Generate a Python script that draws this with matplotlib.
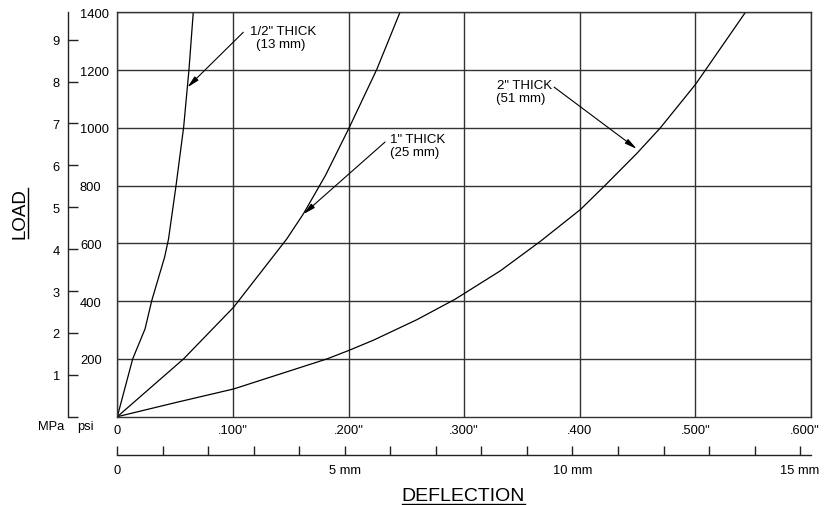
import matplotlib
matplotlib.use('Agg')
import matplotlib.pyplot as plt
import matplotlib.transforms as mtransforms
from matplotlib.lines import Line2D

plt.rcParams['font.family'] = ['Liberation Sans', 'DejaVu Sans']

# load (psi) against deflection (inch)
half_x = [0, 0.0133, 0.0240, 0.0298, 0.0409, 0.0443, 0.0508, 0.0574, 0.0620, 0.0657]
half_y = [0, 200, 304, 402, 552, 615, 800, 1003, 1202, 1400]
one_x = [0, 0.0573, 0.1006, 0.1465, 0.1609, 0.1800, 0.2005, 0.2244, 0.2445]
one_y = [0, 200, 379, 615, 702, 835, 1000, 1202, 1400]
two_x = [0, 0.0516, 0.1006, 0.1813, 0.2000, 0.2216, 0.2592, 0.2923, 0.3313,
         0.3659, 0.4005, 0.4207, 0.4495, 0.4697, 0.5000, 0.5087, 0.5433]
two_y = [0, 50, 96, 200, 229, 265, 336, 407, 505,
         607, 717, 796, 912, 1000, 1150, 1200, 1400]

psi_ticks = [200, 400, 600, 800, 1000, 1200, 1400]
mpa_ticks = [0, 1, 2, 3, 4, 5, 6, 7, 8, 9]
mpa_labels = ['', '1', '2', '3', '4', '5', '6', '7', '8', '9']
inch_ticks = [0, 0.1, 0.2, 0.3, 0.4, 0.5, 0.6]
inch_labels = ['0', '.100"', '.200"', '.300"', '.400', '.500"', '.600"']
mm_ticks = list(range(16))
mm_labels = ['0', '', '', '', '', '5 mm', '', '', '', '', '10 mm', '', '', '', '', '15 mm']

W, H = 824, 506
L, R, B, T = 117.3, 811, 417.7, 13.3
PSI_PER_MPA = 145.038

fig = plt.figure(figsize=(W / 100, H / 100), dpi=100)

# main chart
ax = fig.add_axes([L / W, 1 - B / H, (R - L) / W, (B - T) / H])
ax.set_xlim(0, 0.6)
ax.set_ylim(0, 1400)
ax.set_xticks(inch_ticks)
ax.set_xticklabels(inch_labels)
ax.set_yticks(psi_ticks)
ax.set_yticklabels([str(v) for v in psi_ticks])
ax.tick_params(length=0, labelsize=9.3)
ax.tick_params(axis='x', pad=5)
ax.tick_params(axis='y', pad=26.9)
for lab in ax.get_yticklabels():
    lab.set_ha('left')
# last inch label sits right at the figure edge, nudge it in a bit
last = ax.get_xticklabels()[-1]
last.set_transform(last.get_transform() +
                   mtransforms.ScaledTranslation(-6 / 100, 0, fig.dpi_scale_trans))
ax.grid(True, color='#333333', lw=1.0)
for s in ax.spines.values():
    s.set_color('#333333')
    s.set_linewidth(1.0)

for xs, ys in [(half_x, half_y), (one_x, one_y), (two_x, two_y)]:
    ax.plot(xs, ys, color='black', lw=0.9, clip_on=True)

# curve labels with arrows
arrow = dict(arrowstyle='-|>,head_length=0.9,head_width=0.2', color='black',
             lw=0.8, mutation_scale=8, shrinkA=0, shrinkB=0)
ax.annotate('', xy=(0.0606, 1140), xytext=(0.1090, 1331), arrowprops=arrow)
ax.annotate('', xy=(0.1609, 701), xytext=(0.2316, 951), arrowprops=arrow)
ax.annotate('', xy=(0.4493, 927), xytext=(0.3778, 1141), arrowprops=arrow)
ax.text(0.1433, 1335, '1/2" THICK', ha='center', va='center', fontsize=9.5)
ax.text(0.1416, 1290, '(13 mm)', ha='center', va='center', fontsize=9.5)
ax.text(0.2597, 961, '1" THICK', ha='center', va='center', fontsize=9.5)
ax.text(0.2571, 916, '(25 mm)', ha='center', va='center', fontsize=9.5)
ax.text(0.3522, 1148, '2" THICK', ha='center', va='center', fontsize=9.5)
ax.text(0.3492, 1103, '(51 mm)', ha='center', va='center', fontsize=9.5)

# MPa scale
axm = fig.add_axes([68 / W, 1 - B / H, 0.001, (B - T) / H])
axm.set_ylim(0, 1400 / PSI_PER_MPA)
axm.set_yticks(mpa_ticks)
axm.set_yticklabels(mpa_labels)
axm.tick_params(axis='y', direction='in', length=7.2, width=1.0, pad=5.8,
                labelsize=9.3, color='#222222')
axm.set_xticks([])
axm.patch.set_visible(False)
for k in ['top', 'right', 'bottom']:
    axm.spines[k].set_visible(False)
axm.spines['left'].set_linewidth(1.0)
axm.spines['left'].set_color('#222222')

# mm scale
axmm = fig.add_axes([L / W, 1 - 456 / H, (R - L) / W, 0.001])
axmm.set_xlim(0, 0.6 * 25.4)
axmm.set_xticks(mm_ticks)
axmm.set_xticklabels(mm_labels)
axmm.tick_params(axis='x', direction='in', length=6.5, width=1.0, pad=6.3,
                 labelsize=9.3, color='#222222')
axmm.set_yticks([])
axmm.patch.set_visible(False)
for k in ['top', 'right', 'left']:
    axmm.spines[k].set_visible(False)
axmm.spines['bottom'].set_linewidth(1.0)
axmm.spines['bottom'].set_color('#222222')

fig.text(51 / W, 1 - 427 / H, 'MPa', ha='center', va='center', fontsize=9.3)
fig.text(85 / W, 1 - 427 / H, 'psi', ha='center', va='center', fontsize=9.3)

# axis titles, underlined
t_x = fig.text(463.5 / W, 1 - 500.7 / H, 'DEFLECTION', ha='center', va='baseline',
               fontsize=14)
t_y = fig.text(24.5 / W, 1 - 214 / H, 'LOAD', ha='center', va='baseline',
               rotation=90, rotation_mode='anchor', fontsize=13.5)
fig.canvas.draw()
bx = t_x.get_window_extent()
fig.add_artist(Line2D([bx.x0 / W, bx.x1 / W], [(H - 505) / H] * 2,
                      color='black', lw=1.0))
by = t_y.get_window_extent()
fig.add_artist(Line2D([27.5 / W] * 2, [by.y0 / H, by.y1 / H],
                      color='black', lw=1.0))

fig.savefig('out.png', dpi=100)
